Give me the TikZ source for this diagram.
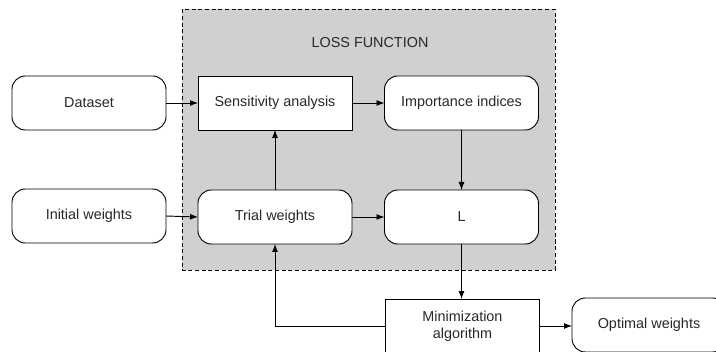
\documentclass[tikz,border=0pt]{standalone}
\usepackage{fontspec}
\setmainfont{Liberation Sans}
\usetikzlibrary{arrows.meta}
\definecolor{lossgray}{RGB}{208,208,208}
\definecolor{textgray}{RGB}{40,40,40}

\begin{document}
\begin{tikzpicture}[
	x=0.75pt, y=-0.75pt,
	rbox/.style={
		draw,
		fill=white,
		rounded corners=10pt,
		minimum width=115.5pt,
		minimum height=40.5pt,
		inner sep=0pt,
		outer sep=0pt,
		align=center},
	sbox/.style={rbox, rounded corners=0pt},
	every node/.style={font=\fontsize{10.8}{13}\selectfont, text=textgray},
	line width=0.7pt, >={Latex[length=6pt,width=4.5pt]}]
	\useasboundingbox (0,0) rectangle (716,352);
	% draw the loss function region
	\draw[dash pattern=on 3pt off 2pt, fill=lossgray] (182,9.5) rectangle (555,270);
	\node (loss) at (370,43) {LOSS FUNCTION};
	% draw rounded nodes
	\foreach \name/\x/\y/\t in {data/89/103/Dataset, imp/461.5/103/Importance indices,
		init/89/216/Initial weights, trial/275/217/Trial weights, L/461.5/217/L,
		opt/649/325/Optimal weights}
	\node[rbox] (\name) at (\x,\y) {\t};
	% draw square nodes
	\node[sbox] (sens) at (275,103) {Sensitivity analysis};
	\node[sbox] (min) at (462.5,326) {Minimization\\algorithm};
	% draw links
	\draw[->] (data.east) -- (sens.west);
	\draw[->] (sens.east) -- (imp.west);
	\draw[->] (init.east) -- (trial.west);
	\draw[->] (trial.east) -- (L.west);
	\draw[->] (trial.north) -- (sens.south);
	\draw[->] (imp.south) -- (L.north);
	\draw[->] (L.south) -- (L.south |- min.north);
	\draw[->] (min.east) -- (min.east -| opt.west);
	% draw feedback link
	\draw[->] (min.west) -| (trial.south);
\end{tikzpicture}
\end{document}
